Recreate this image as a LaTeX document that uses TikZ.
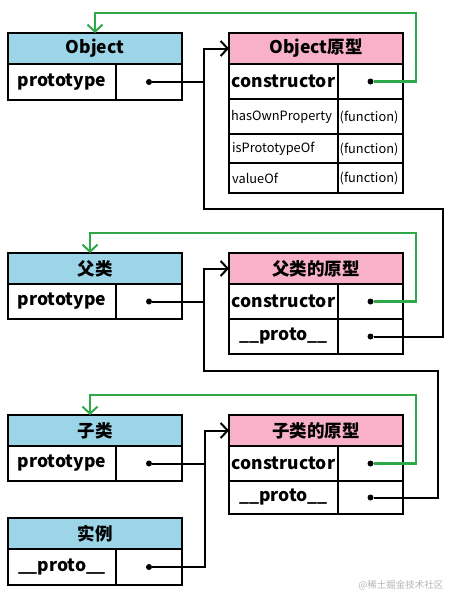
\documentclass[tikz,border=0pt]{standalone}
\usepackage{fontspec}
\setmainfont{Noto Sans CJK SC}
\usetikzlibrary{arrows.meta}
\definecolor{hblue}{HTML}{9CD5E8}
\definecolor{hpink}{HTML}{F9B0C9}
\definecolor{cgreen}{HTML}{2EA84A}
\definecolor{wgray}{HTML}{B4B4B4}
\newcommand\mkcell[7]{%
  \node[cellbox, fill=#6, minimum width=#4-#2, minimum height=#5-#3, anchor=north west] (#1) at (#2,#3) {#7};}
\newcommand\protoname{\_\hspace{-0.5pt}\_proto\_\hspace{-0.5pt}\_}
\begin{document}
\begin{tikzpicture}[x=1pt,y=-1pt,
  cellbox/.style={draw=black, line width=2.6pt, inner sep=0pt, outer sep=0pt, font=\fontsize{17.5}{19}\selectfont\bfseries},
  small/.style={font=\fontsize{12.8}{14}\selectfont, inner sep=0pt, anchor=west},
  link/.style={line width=2pt, black},
  glink/.style={line width=2.2pt, cgreen},
  barb/.style={-{Straight Barb[length=7pt,width=15pt,line width=2pt]}},
  dot/.style={circle, fill=black, inner sep=0pt, minimum size=6pt}]
\useasboundingbox (0,0) rectangle (450,595);
% Object
\mkcell{objH}{8}{33}{182}{64}{hblue}{Object}
\mkcell{objL}{8}{64}{116}{100}{white}{prototype}
\mkcell{objR}{116}{64}{182}{100}{white}{}
% Object prototype
\mkcell{opH}{229}{33}{403}{64}{hpink}{Object原型}
\mkcell{opCL}{229}{64}{338}{99}{white}{constructor}
\mkcell{opCR}{338}{64}{403}{99}{white}{}
\mkcell{opHL}{229}{99}{338}{134}{white}{}
\mkcell{opHR}{338}{99}{403}{134}{white}{}
\mkcell{opIL}{229}{134}{338}{163}{white}{}
\mkcell{opIR}{338}{134}{403}{163}{white}{}
\mkcell{opVL}{229}{163}{338}{193}{white}{}
\mkcell{opVR}{338}{163}{403}{193}{white}{}
\node[small] (t1) at ([xshift=2pt]opHL.west) {hasOwnProperty};
\node[small] (t2) at ([xshift=3pt]opIL.west) {isPrototypeOf};
\node[small] (t3) at ([xshift=3pt]opVL.west) {valueOf};
\node[small] (f1) at ([xshift=1.5pt,yshift=-1pt]opHR.west) {(function)};
\node[small] (f2) at ([xshift=1.5pt,yshift=-1pt]opIR.west) {(function)};
\node[small] (f3) at ([xshift=1.5pt,yshift=-1pt]opVR.west) {(function)};
% Parent
\mkcell{faH}{8}{253}{182}{284}{hblue}{父类}
\mkcell{faL}{8}{284}{116}{319}{white}{prototype}
\mkcell{faR}{116}{284}{182}{319}{white}{}
\mkcell{fpH}{229}{253}{403}{284}{hpink}{父类的原型}
\mkcell{fpCL}{229}{284}{338}{319}{white}{constructor}
\mkcell{fpCR}{338}{284}{403}{319}{white}{}
\mkcell{fpPL}{229}{319}{338}{354}{white}{\protoname}
\mkcell{fpPR}{338}{319}{403}{354}{white}{}
% Child
\mkcell{chH}{8}{415}{182}{446}{hblue}{子类}
\mkcell{chL}{8}{446}{116}{481}{white}{prototype}
\mkcell{chR}{116}{446}{182}{481}{white}{}
\mkcell{cpH}{229}{415}{403}{446}{hpink}{子类的原型}
\mkcell{cpCL}{229}{446}{338}{481}{white}{constructor}
\mkcell{cpCR}{338}{446}{403}{481}{white}{}
\mkcell{cpPL}{229}{481}{338}{514}{white}{\protoname}
\mkcell{cpPR}{338}{481}{403}{514}{white}{}
% Instance
\mkcell{inH}{8}{518}{182}{549}{hblue}{实例}
\mkcell{inL}{8}{549}{116}{585}{white}{\protoname}
\mkcell{inR}{116}{549}{182}{585}{white}{}
% dots
\foreach \c in {objR,opCR,faR,fpCR,fpPR,chR,cpCR,cpPR,inR}{\node[dot] (d\c) at (\c.center) {};}
% junction coordinates
\coordinate (j1) at (dobjR -| 204,0);
\coordinate (j2) at (dfaR -| 204,0);
\coordinate (j3) at (dchR -| 205,0);
% black links
\draw[link] (dobjR) -- (j1);
\draw[link, barb] (dfpPR) -| (443,209) -| (opH.west -| 204,0) -- (opH.west);
\draw[link] (dfaR) -- (j2);
\draw[link, barb] (dcpPR) -| (438,371) -| (fpH.west -| 204,0) -- (fpH.west);
\draw[link] (dchR) -- (j3);
\draw[link, barb] (dinR) -| (cpH.west -| 205,0) -- (cpH.west);
% green links
\draw[glink, barb] (dopCR) -| (416,13) -| (objH.north -| 95,0);
\draw[glink, barb] (dfpCR) -| (416,233) -| (faH.north -| 90,0);
\draw[glink, barb] (dcpCR) -| (416,395) -| (chH.north -| 90,0);
% watermark
\node[font=\fontsize{9.5}{11}\selectfont, text=wgray, anchor=east] (wm) at (447,585) {@稀土掘金技术社区};
\end{tikzpicture}
\end{document}
